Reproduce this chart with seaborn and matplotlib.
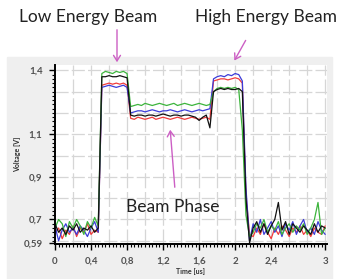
import numpy as np
import pandas as pd
import matplotlib
matplotlib.use("Agg")
import matplotlib.pyplot as plt
from matplotlib.patches import Rectangle, FancyArrowPatch
import seaborn as sns

# time axis [us]
t = [0.00, 0.04, 0.08, 0.12, 0.16, 0.20, 0.24, 0.28, 0.32, 0.36, 0.40, 0.44, 0.48,
     0.52, 0.56, 0.60, 0.64, 0.68, 0.72, 0.76, 0.80,
     0.84, 0.88, 0.92, 0.96, 1.00, 1.04, 1.08, 1.12, 1.16, 1.20, 1.24, 1.28, 1.32,
     1.36, 1.40, 1.44, 1.48, 1.52, 1.56, 1.60, 1.64, 1.68, 1.72,
     1.76, 1.80, 1.84, 1.88, 1.92, 1.96, 2.00, 2.04, 2.08,
     2.12, 2.16,
     2.20, 2.24, 2.28, 2.32, 2.36, 2.40, 2.44, 2.48, 2.52, 2.56, 2.60, 2.64, 2.68,
     2.72, 2.76, 2.80, 2.84, 2.88, 2.92, 2.96, 3.00]

black = [0.68, 0.64, 0.66, 0.63, 0.67, 0.65, 0.68, 0.64, 0.66, 0.65, 0.67, 0.64, 0.66,
         1.37, 1.37, 1.375, 1.37, 1.37, 1.375, 1.37, 1.365,
         1.19, 1.185, 1.19, 1.19, 1.185, 1.19, 1.19, 1.185, 1.19, 1.195, 1.19, 1.185,
         1.19, 1.19, 1.185, 1.19, 1.19, 1.185, 1.18, 1.165, 1.18, 1.19, 1.13,
         1.30, 1.31, 1.315, 1.31, 1.315, 1.31, 1.31, 1.315, 1.30,
         0.80, 0.59,
         0.66, 0.69, 0.64, 0.68, 0.63, 0.67, 0.70, 0.78, 0.65, 0.69, 0.63, 0.68, 0.66,
         0.64, 0.67, 0.65, 0.63, 0.68, 0.64, 0.67, 0.66]

green = [0.66, 0.70, 0.68, 0.62, 0.69, 0.66, 0.70, 0.67, 0.63, 0.69, 0.66, 0.71, 0.67,
         1.385, 1.395, 1.39, 1.385, 1.395, 1.39, 1.395, 1.385,
         1.23, 1.235, 1.24, 1.235, 1.245, 1.24, 1.235, 1.24, 1.245, 1.24, 1.235, 1.24,
         1.245, 1.235, 1.24, 1.245, 1.24, 1.235, 1.24, 1.245, 1.24, 1.235, 1.24,
         1.30, 1.315, 1.32, 1.315, 1.32, 1.315, 1.32, 1.31, 1.12,
         0.72, 0.62,
         0.64, 0.68, 0.66, 0.70, 0.64, 0.67, 0.65, 0.69, 0.63, 0.66, 0.68, 0.64, 0.67,
         0.65, 0.68, 0.63, 0.66, 0.70, 0.78, 0.63, 0.66]

red = [0.64, 0.66, 0.61, 0.65, 0.63, 0.67, 0.62, 0.66, 0.64, 0.68, 0.63, 0.65, 0.64,
       1.33, 1.335, 1.34, 1.335, 1.34, 1.335, 1.34, 1.33,
       1.175, 1.17, 1.18, 1.175, 1.17, 1.175, 1.18, 1.17, 1.175, 1.18, 1.175, 1.17,
       1.175, 1.18, 1.175, 1.17, 1.175, 1.18, 1.175, 1.17, 1.175, 1.18, 1.17,
       1.35, 1.355, 1.36, 1.36, 1.355, 1.36, 1.365, 1.36, 1.34,
       0.82, 0.63,
       0.62, 0.66, 0.63, 0.68, 0.64, 0.61, 0.66, 0.63, 0.67, 0.65, 0.62, 0.66, 0.64,
       0.67, 0.63, 0.65, 0.62, 0.66, 0.64, 0.63, 0.67]

blue = [0.67, 0.60, 0.65, 0.68, 0.64, 0.66, 0.63, 0.67, 0.65, 0.62, 0.66, 0.69, 0.64,
        1.32, 1.325, 1.33, 1.325, 1.32, 1.325, 1.33, 1.32,
        1.20, 1.205, 1.21, 1.21, 1.205, 1.21, 1.215, 1.21, 1.205, 1.21, 1.21, 1.215,
        1.21, 1.205, 1.21, 1.215, 1.21, 1.205, 1.21, 1.215, 1.21, 1.215, 1.22,
        1.36, 1.37, 1.375, 1.37, 1.38, 1.375, 1.385, 1.38, 1.35,
        0.85, 0.60,
        0.68, 0.64, 0.70, 0.63, 0.66, 0.69, 0.64, 0.67, 0.62, 0.68, 0.65, 0.69, 0.63,
        0.67, 0.70, 0.64, 0.66, 0.63, 0.69, 0.65, 0.63]

y_ticks = [0.59, 0.7, 0.9, 1.1, 1.4]
y_labels = ["0,59", "0,7", "0,9", "1,1", "1,4"]
x_ticks = [0, 0.4, 0.8, 1.2, 1.6, 2.0, 2.4, 3.0]
x_labels = ["0", "0,4", "0,8", "1,2", "1,6", "2", "2,4", "3"]

df = pd.concat([
    pd.DataFrame({"t": t, "v": red, "trace": "red"}),
    pd.DataFrame({"t": t, "v": blue, "trace": "blue"}),
    pd.DataFrame({"t": t, "v": green, "trace": "green"}),
    pd.DataFrame({"t": t, "v": black, "trace": "black"}),
])
pal = {"red": "#f03c3c", "blue": "#3c3cd8", "green": "#3cb43c", "black": "#111111"}

sns.set_style("ticks")
plt.rcParams["font.family"] = ["Lato", "DejaVu Sans"]

fig = plt.figure(figsize=(3.42, 2.79), dpi=100)
fig.patches.append(Rectangle((7 / 342, 0), 325 / 342, 222 / 279,
                             transform=fig.transFigure, color="#efefef", zorder=-5))
ax = fig.add_axes([55 / 342, 35 / 279, 272 / 342, 179 / 279])

sns.lineplot(data=df, x="t", y="v", hue="trace", palette=pal, linewidth=0.9,
             legend=False, sort=False, estimator=None, ax=ax)

ax.set_xlim(0, 3.02)
ax.set_ylim(0.585, 1.425)
ax.set_facecolor("white")

# broken grid
for gx in np.arange(0.2, 3.01, 0.2):
    ax.axvline(gx, color="#d6d6d6", lw=0.9, ls=(0, (12, 3)), zorder=0)
for gy in np.arange(0.6, 1.41, 0.1):
    ax.axhline(gy, color="#d6d6d6", lw=0.9, ls=(0, (10.5, 2.5)), zorder=0)

ax.set_xticks(x_ticks)
ax.set_xticklabels(x_labels)
ax.set_yticks(y_ticks)
ax.set_yticklabels(y_labels)
ax.set_xticks(np.arange(0, 3.01, 0.04), minor=True)
ax.set_yticks(np.arange(0.6, 1.42, 0.02), minor=True)
ax.tick_params(axis="both", which="major", length=4, width=1, labelsize=7,
               labelcolor="#505050", color="black", pad=5, direction="out")
ax.tick_params(axis="both", which="minor", length=2.5, width=0.8, color="black",
               direction="out")
for lab in ax.get_xticklabels() + ax.get_yticklabels():
    lab.set_fontweight("bold")

for side in ["top", "right"]:
    ax.spines[side].set_visible(False)
for side in ["left", "bottom"]:
    ax.spines[side].set_color("black")
    ax.spines[side].set_linewidth(1.4)

ax.set_xlabel("Time [us]", fontsize=5, fontweight="bold", color="#303030", labelpad=2)
ax.set_ylabel("Voltage [V]", fontsize=5, fontweight="bold", color="#303030", labelpad=2)

# annotations
arrow_c = "#cc5fc4"
fig.text(88 / 342, 1 - 17 / 279, "Low Energy Beam", fontsize=12.5, ha="center",
         va="center", color="#222222")
fig.text(195 / 342, 1 - 17 / 279, "High Energy Beam", fontsize=12.5, ha="left",
         va="center", color="#222222")
fig.text(173 / 342, 1 - 207 / 279, "Beam Phase", fontsize=12.5, ha="center",
         va="center", color="#222222")


def fig_arrow(x0, y0, x1, y1):
    fig.add_artist(FancyArrowPatch(
        (x0 / 342, 1 - y0 / 279), (x1 / 342, 1 - y1 / 279),
        transform=fig.transFigure, arrowstyle="->,head_length=4,head_width=2.5",
        color=arrow_c, lw=1, zorder=10))


fig_arrow(117, 27, 117, 65)
fig_arrow(247, 38, 233, 63)
fig_arrow(175, 190, 170, 127)

fig.savefig("out.png", dpi=100)
